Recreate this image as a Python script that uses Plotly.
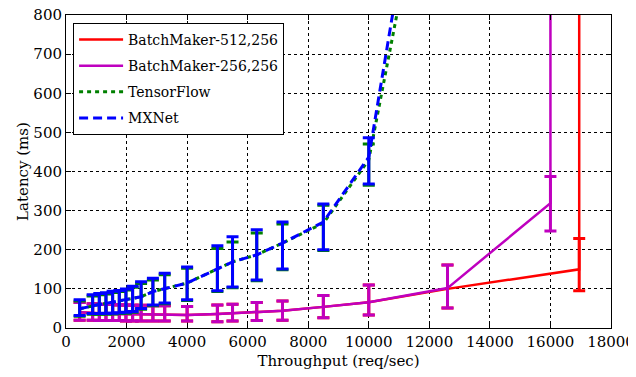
import plotly.graph_objects as go

# ---- data ----
mx_x = [450, 880, 1100, 1320, 1540, 1760, 1980, 2200, 2480, 2870, 3260, 4000, 5000, 5500, 6300, 7150, 8500, 10000, 11000]
mx_y = [49, 57, 60, 63, 66, 69, 72, 75, 80, 93, 101, 115, 151, 169, 187, 217, 271, 437, 900]
mx_hi = [72, 85, 88, 90, 94, 96, 100, 107, 118, 127, 140, 156, 210, 233, 251, 271, 317, 486, 900]
mx_lo = [32, 37, 37, 38, 38, 39, 40, 42, 50, 59, 64, 72, 95, 105, 123, 151, 200, 368, 900]

tf_x = [450, 880, 1100, 1320, 1540, 1760, 1980, 2200, 2480, 2870, 3260, 4000, 5000, 5500, 6300, 7150, 8500, 10000, 11000]
tf_y = [49, 57, 60, 63, 66, 69, 72, 75, 80, 93, 101, 115, 151, 169, 187, 217, 268, 430, 830]
tf_hi = [69, 82, 85, 87, 91, 93, 97, 104, 114, 123, 136, 153, 203, 220, 243, 266, 314, 470, 830]
tf_lo = [30, 35, 35, 36, 36, 37, 38, 40, 48, 57, 62, 70, 93, 103, 121, 149, 198, 365, 830]

bm256_x = [450, 880, 1100, 1320, 1540, 1760, 1980, 2200, 2480, 2870, 3260, 4000, 5000, 5500, 6300, 7150, 8500, 10000, 12600, 16000, 16000]
bm256_y = [40, 38, 37, 37, 36, 36, 35, 35, 35, 34, 34, 33, 36, 38, 41, 44, 54, 66, 102, 319, 2000]
bm256_hi = [65, 62, 61, 60, 60, 59, 59, 58, 58, 57, 57, 55, 59, 61, 65, 69, 83, 110, 161, 387, 2000]
bm256_lo = [20, 20, 19, 19, 19, 19, 18, 18, 18, 18, 18, 18, 16, 18, 19, 20, 26, 33, 51, 248, 2000]

bm512_x = [450, 880, 1100, 1320, 1540, 1760, 1980, 2200, 2480, 2870, 3260, 4000, 5000, 5500, 6300, 7150, 8500, 10000, 12600, 16950, 16950]
bm512_y = [40, 38, 37, 37, 36, 36, 35, 35, 35, 34, 34, 33, 36, 38, 41, 44, 54, 66, 100, 150, 2000]
bm512_hi = [65, 62, 61, 60, 60, 59, 59, 58, 58, 57, 57, 55, 59, 61, 65, 69, 83, 110, 161, 229, 2000]
bm512_lo = [20, 20, 19, 19, 19, 19, 18, 18, 18, 18, 18, 18, 16, 18, 19, 20, 26, 33, 51, 95, 2000]

x_ticks = [0, 2000, 4000, 6000, 8000, 10000, 12000, 14000, 16000, 18000]
y_ticks = [0, 100, 200, 300, 400, 500, 600, 700, 800]

FONT = "DejaVu Serif"


def trace(name, xs, ys, hi, lo, color, width, dash):
    return go.Scatter(
        x=xs, y=ys, name=name, mode="lines", legendgroup=name,
        line=dict(color=color, width=width, dash=dash),
        error_y=dict(type="data", symmetric=False,
                     array=[h - v for h, v in zip(hi, ys)],
                     arrayminus=[v - l for v, l in zip(ys, lo)],
                     color=color, thickness=3, width=6),
        cliponaxis=True,
    )


fig = go.Figure()
fig.add_trace(trace("BatchMaker-512,256", bm512_x, bm512_y, bm512_hi, bm512_lo, "#FF0000", 2.5, "solid"))
fig.add_trace(trace("BatchMaker-256,256", bm256_x, bm256_y, bm256_hi, bm256_lo, "#BF00BF", 2.5, "solid"))
fig.add_trace(trace("TensorFlow", tf_x, tf_y, tf_hi, tf_lo, "#008000", 3, "4px,4px"))
fig.add_trace(trace("MXNet", mx_x, mx_y, mx_hi, mx_lo, "#0000FF", 3, "9px,5px"))

axis_common = dict(
    showline=True, linecolor="black", linewidth=1, mirror="ticks",
    ticks="inside", ticklen=5, tickcolor="black",
    showgrid=True, gridcolor="black", gridwidth=1, griddash="dot",
    zeroline=False, automargin=False, ticklabeloverflow="allow",
    tickfont=dict(family=FONT, size=15, color="black"),
)

fig.update_xaxes(range=[0, 18000], tickvals=x_ticks, ticktext=[str(v) for v in x_ticks],
                 title=dict(text="Throughput (req/sec)", font=dict(family=FONT, size=15, color="black"), standoff=5),
                 **axis_common)
fig.update_yaxes(range=[0, 800], tickvals=y_ticks, ticktext=[str(v) for v in y_ticks],
                 title=dict(text="Latency (ms)", font=dict(family=FONT, size=15, color="black"), standoff=1),
                 **axis_common)

# page body adds an 8px offset, so the figure is sized to the remaining viewport
fig.update_layout(
    width=628, height=369,
    margin=dict(l=58, r=25, t=7, b=49),
    paper_bgcolor="white", plot_bgcolor="white",
    showlegend=True,
    font=dict(family=FONT),
    legend=dict(x=0.013, y=0.975, xanchor="left", yanchor="top",
                bgcolor="white", bordercolor="black", borderwidth=1,
                font=dict(family=FONT, size=14, color="black"),
                tracegroupgap=5, itemwidth=44),
)

fig.write_html("out.html")
